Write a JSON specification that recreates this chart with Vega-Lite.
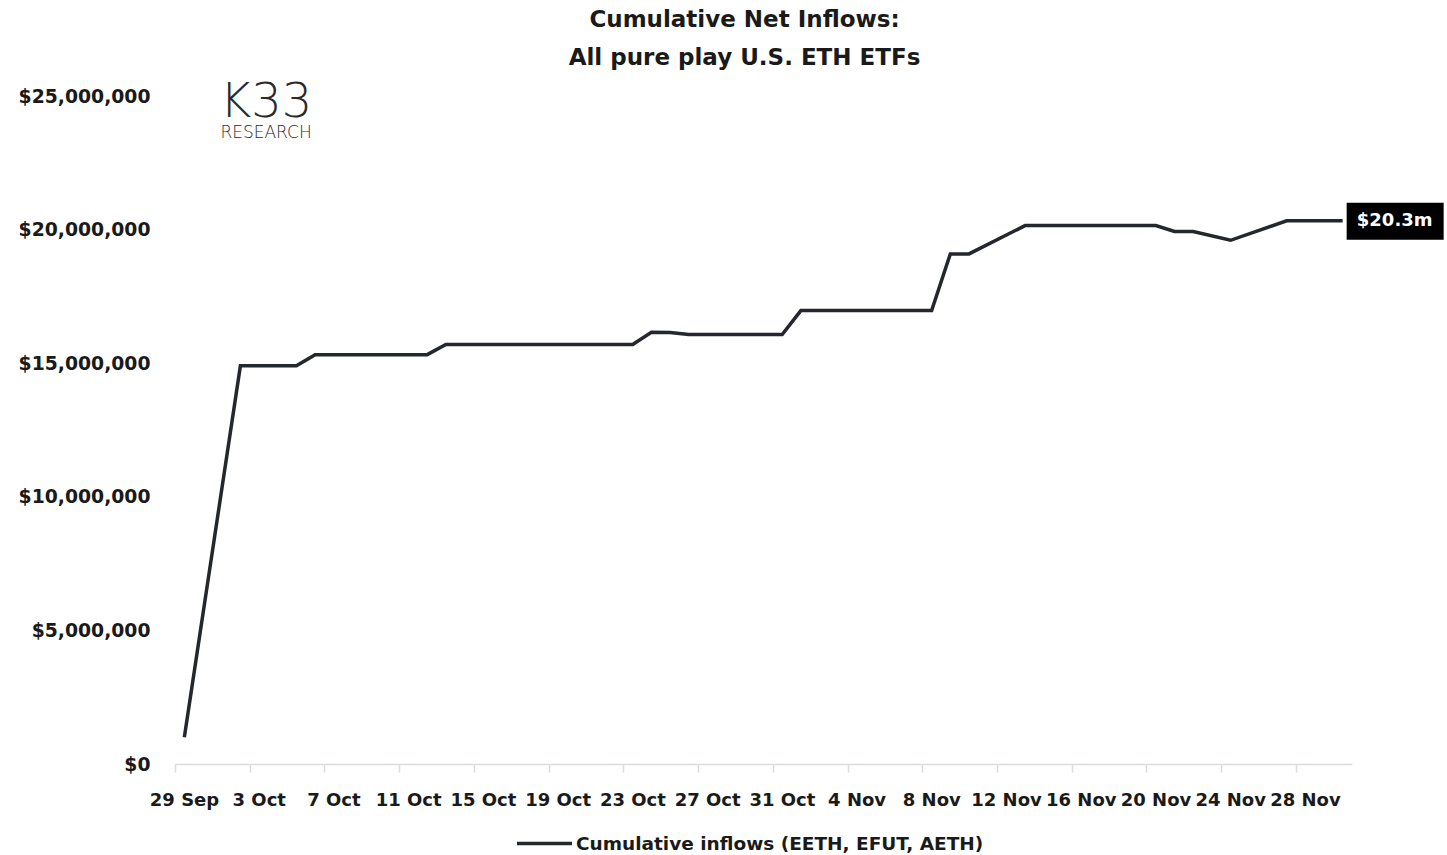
{
  "$schema": "https://vega.github.io/schema/vega-lite/v6.json",
  "autosize": {"type": "none"},
  "width": 1177,
  "height": 668,
  "padding": {"left": 175, "top": 96, "right": 95, "bottom": 91},
  "background": "white",
  "title": {
    "text": ["Cumulative Net Inflows:", "All pure play U.S. ETH ETFs"],
    "font": "DejaVu Sans",
    "fontSize": 23,
    "fontWeight": "bold",
    "color": "#1a1a1a",
    "lineHeight": 38,
    "anchor": "middle",
    "frame": "group",
    "dx": -19,
    "offset": 9
  },
  "config": {
    "view": {"stroke": null},
    "font": "DejaVu Sans",
    "axis": {"grid": false, "title": null}
  },
  "layer": [
    {
      "data": {"values": [
        {"date": "2023-09-29", "value": 1000000, "series": "Cumulative inflows (EETH, EFUT, AETH)"},
        {"date": "2023-10-02", "value": 14900000, "series": "Cumulative inflows (EETH, EFUT, AETH)"},
        {"date": "2023-10-03", "value": 14900000, "series": "Cumulative inflows (EETH, EFUT, AETH)"},
        {"date": "2023-10-04", "value": 14900000, "series": "Cumulative inflows (EETH, EFUT, AETH)"},
        {"date": "2023-10-05", "value": 14900000, "series": "Cumulative inflows (EETH, EFUT, AETH)"},
        {"date": "2023-10-06", "value": 15320000, "series": "Cumulative inflows (EETH, EFUT, AETH)"},
        {"date": "2023-10-09", "value": 15320000, "series": "Cumulative inflows (EETH, EFUT, AETH)"},
        {"date": "2023-10-10", "value": 15320000, "series": "Cumulative inflows (EETH, EFUT, AETH)"},
        {"date": "2023-10-11", "value": 15320000, "series": "Cumulative inflows (EETH, EFUT, AETH)"},
        {"date": "2023-10-12", "value": 15320000, "series": "Cumulative inflows (EETH, EFUT, AETH)"},
        {"date": "2023-10-13", "value": 15700000, "series": "Cumulative inflows (EETH, EFUT, AETH)"},
        {"date": "2023-10-16", "value": 15700000, "series": "Cumulative inflows (EETH, EFUT, AETH)"},
        {"date": "2023-10-17", "value": 15700000, "series": "Cumulative inflows (EETH, EFUT, AETH)"},
        {"date": "2023-10-18", "value": 15700000, "series": "Cumulative inflows (EETH, EFUT, AETH)"},
        {"date": "2023-10-19", "value": 15700000, "series": "Cumulative inflows (EETH, EFUT, AETH)"},
        {"date": "2023-10-20", "value": 15700000, "series": "Cumulative inflows (EETH, EFUT, AETH)"},
        {"date": "2023-10-23", "value": 15700000, "series": "Cumulative inflows (EETH, EFUT, AETH)"},
        {"date": "2023-10-24", "value": 16160000, "series": "Cumulative inflows (EETH, EFUT, AETH)"},
        {"date": "2023-10-25", "value": 16150000, "series": "Cumulative inflows (EETH, EFUT, AETH)"},
        {"date": "2023-10-26", "value": 16070000, "series": "Cumulative inflows (EETH, EFUT, AETH)"},
        {"date": "2023-10-27", "value": 16070000, "series": "Cumulative inflows (EETH, EFUT, AETH)"},
        {"date": "2023-10-30", "value": 16070000, "series": "Cumulative inflows (EETH, EFUT, AETH)"},
        {"date": "2023-10-31", "value": 16070000, "series": "Cumulative inflows (EETH, EFUT, AETH)"},
        {"date": "2023-11-01", "value": 16970000, "series": "Cumulative inflows (EETH, EFUT, AETH)"},
        {"date": "2023-11-02", "value": 16970000, "series": "Cumulative inflows (EETH, EFUT, AETH)"},
        {"date": "2023-11-03", "value": 16970000, "series": "Cumulative inflows (EETH, EFUT, AETH)"},
        {"date": "2023-11-06", "value": 16970000, "series": "Cumulative inflows (EETH, EFUT, AETH)"},
        {"date": "2023-11-07", "value": 16970000, "series": "Cumulative inflows (EETH, EFUT, AETH)"},
        {"date": "2023-11-08", "value": 16970000, "series": "Cumulative inflows (EETH, EFUT, AETH)"},
        {"date": "2023-11-09", "value": 19090000, "series": "Cumulative inflows (EETH, EFUT, AETH)"},
        {"date": "2023-11-10", "value": 19090000, "series": "Cumulative inflows (EETH, EFUT, AETH)"},
        {"date": "2023-11-13", "value": 20150000, "series": "Cumulative inflows (EETH, EFUT, AETH)"},
        {"date": "2023-11-14", "value": 20150000, "series": "Cumulative inflows (EETH, EFUT, AETH)"},
        {"date": "2023-11-15", "value": 20150000, "series": "Cumulative inflows (EETH, EFUT, AETH)"},
        {"date": "2023-11-16", "value": 20150000, "series": "Cumulative inflows (EETH, EFUT, AETH)"},
        {"date": "2023-11-17", "value": 20150000, "series": "Cumulative inflows (EETH, EFUT, AETH)"},
        {"date": "2023-11-20", "value": 20150000, "series": "Cumulative inflows (EETH, EFUT, AETH)"},
        {"date": "2023-11-21", "value": 19930000, "series": "Cumulative inflows (EETH, EFUT, AETH)"},
        {"date": "2023-11-22", "value": 19930000, "series": "Cumulative inflows (EETH, EFUT, AETH)"},
        {"date": "2023-11-24", "value": 19600000, "series": "Cumulative inflows (EETH, EFUT, AETH)"},
        {"date": "2023-11-27", "value": 20330000, "series": "Cumulative inflows (EETH, EFUT, AETH)"},
        {"date": "2023-11-28", "value": 20330000, "series": "Cumulative inflows (EETH, EFUT, AETH)"},
        {"date": "2023-11-29", "value": 20330000, "series": "Cumulative inflows (EETH, EFUT, AETH)"},
        {"date": "2023-11-30", "value": 20330000, "series": "Cumulative inflows (EETH, EFUT, AETH)"}
      ]},
      "mark": {"type": "line", "strokeWidth": 3.5, "interpolate": "linear"},
      "encoding": {
        "x": {
          "field": "date",
          "type": "temporal",
          "scale": {"type": "utc", "domain": [{"year": 2023, "month": 9, "date": 28, "hours": 12, "utc": true}, {"year": 2023, "month": 11, "date": 30, "hours": 12, "utc": true}]},
          "axis": {
            "values": [
              {"year": 2023, "month": 9, "date": 28, "hours": 12, "utc": true},
              {"year": 2023, "month": 10, "date": 2, "hours": 12, "utc": true},
              {"year": 2023, "month": 10, "date": 6, "hours": 12, "utc": true},
              {"year": 2023, "month": 10, "date": 10, "hours": 12, "utc": true},
              {"year": 2023, "month": 10, "date": 14, "hours": 12, "utc": true},
              {"year": 2023, "month": 10, "date": 18, "hours": 12, "utc": true},
              {"year": 2023, "month": 10, "date": 22, "hours": 12, "utc": true},
              {"year": 2023, "month": 10, "date": 26, "hours": 12, "utc": true},
              {"year": 2023, "month": 10, "date": 30, "hours": 12, "utc": true},
              {"year": 2023, "month": 11, "date": 3, "hours": 12, "utc": true},
              {"year": 2023, "month": 11, "date": 7, "hours": 12, "utc": true},
              {"year": 2023, "month": 11, "date": 11, "hours": 12, "utc": true},
              {"year": 2023, "month": 11, "date": 15, "hours": 12, "utc": true},
              {"year": 2023, "month": 11, "date": 19, "hours": 12, "utc": true},
              {"year": 2023, "month": 11, "date": 23, "hours": 12, "utc": true},
              {"year": 2023, "month": 11, "date": 27, "hours": 12, "utc": true}
            ],
            "labelExpr": "utcFormat(datum.value + 43200000, '%-d %b')",
            "labelOffset": 9,
            "labelFontSize": 18,
            "labelFontWeight": "bold",
            "labelColor": "#1a1a1a",
            "labelPadding": 19,
            "domainColor": "#d9dce1",
            "domainWidth": 1.5,
            "tickColor": "#d9dce1",
            "tickWidth": 1.5,
            "tickSize": 8,
            "labelOverlap": false,
            "labelBound": false,
            "labelFlush": false
          }
        },
        "y": {
          "field": "value",
          "type": "quantitative",
          "scale": {"domain": [0, 25000000], "nice": false},
          "axis": {
            "values": [0, 5000000, 10000000, 15000000, 20000000, 25000000],
            "format": "$,.0f",
            "domain": false,
            "ticks": false,
            "labelPadding": 25,
            "labelFontSize": 18.8,
            "labelFontWeight": "bold",
            "labelColor": "#1a1a1a"
          }
        },
        "color": {
          "field": "series",
          "type": "nominal",
          "scale": {"range": ["#24272c"]},
          "legend": {
            "title": null,
            "orient": "none",
            "legendX": 340,
            "legendY": 718,
            "direction": "horizontal",
            "symbolType": "stroke",
            "symbolSize": 3025,
            "symbolStrokeWidth": 3.5,
            "labelFontSize": 18.5,
            "labelFontWeight": "bold",
            "labelColor": "#1a1a1a",
            "labelLimit": 600,
            "labelOffset": 2
          }
        }
      }
    },
    {
      "data": {"values": [{"date": "2023-11-30", "value": 20330000}]},
      "mark": {"type": "point", "shape": "M0.08,-0.36H2.02V0.38H0.08Z", "size": 10000, "filled": true, "color": "#000000", "opacity": 1, "strokeWidth": 0},
      "encoding": {
        "x": {"field": "date", "type": "temporal"},
        "y": {"field": "value", "type": "quantitative"}
      }
    },
    {
      "data": {"values": [{"date": "2023-11-30", "value": 20330000}]},
      "mark": {"type": "text", "text": "$20.3m", "dx": 52, "fontSize": 18, "fontWeight": "bold", "color": "#ffffff", "align": "center", "baseline": "middle"},
      "encoding": {
        "x": {"field": "date", "type": "temporal"},
        "y": {"field": "value", "type": "quantitative"}
      }
    },
    {
      "data": {"values": [
        {"date": "2023-10-03T09:00:00Z", "value": 24740000, "label": "K33", "kind": "big"},
        {"date": "2023-10-03T09:00:00Z", "value": 23620000, "label": "RESEARCH", "kind": "small"}
      ]},
      "mark": {"type": "text", "font": "DejaVu Sans", "fontWeight": 200, "color": "#2a2a2a", "align": "center", "baseline": "middle"},
      "encoding": {
        "x": {"field": "date", "type": "temporal"},
        "y": {"field": "value", "type": "quantitative"},
        "text": {"field": "label"},
        "size": {"field": "kind", "type": "nominal", "scale": {"domain": ["big", "small"], "range": [48, 17]}, "legend": null}
      }
    }
  ]
}
